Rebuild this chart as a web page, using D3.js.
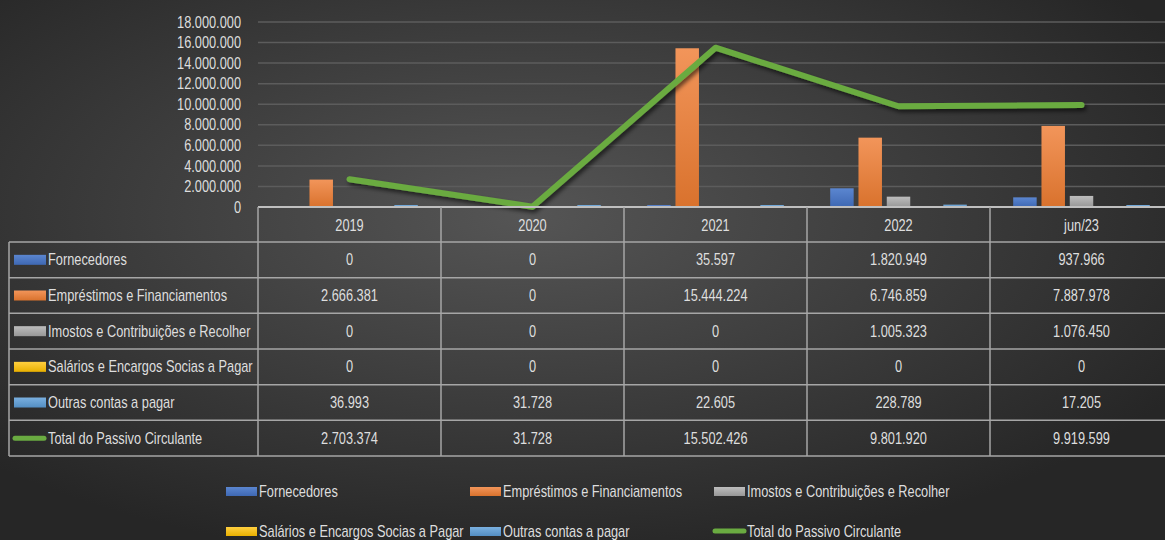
<!DOCTYPE html>
<html>
<head>
<meta charset="utf-8">
<script src="https://cdn.jsdelivr.net/npm/d3@7"></script>
<style>
  html, body { margin: 0; padding: 0; background: #333; }
  svg text { font-family: "Liberation Sans", Arial, sans-serif; fill: #dedede; font-size: 16px; }
</style>
</head>
<body>
<script>
var width = 1165, height = 540;

// dados
var categorias = ["2019", "2020", "2021", "2022", "jun/23"];
var series = ["Fornecedores", "Empréstimos e Financiamentos", "Imostos e Contribuições e Recolher",
              "Salários e Encargos Socias a Pagar", "Outras contas a pagar"];
var fornecedores = [0, 0, 35597, 1820949, 937966];
var emprestimos = [2666381, 0, 15444224, 6746859, 7887978];
var impostos = [0, 0, 0, 1005323, 1076450];
var salarios = [0, 0, 0, 0, 0];
var outras = [36993, 31728, 22605, 228789, 17205];
var totalNome = "Total do Passivo Circulante";
var total = [2703374, 31728, 15502426, 9801920, 9919599];
var yTicks = [0, 2000000, 4000000, 6000000, 8000000, 10000000, 12000000, 14000000, 16000000, 18000000];

var valores = [fornecedores, emprestimos, impostos, salarios, outras];
var cores = ["#4472C4", "#ED7D31", "#A5A5A5", "#FFC000", "#5B9BD5"];
var coresTopo = ["#5b86d0", "#f2955a", "#bdbdbd", "#ffd040", "#7ab0e0"];
var corTotal = "#6aab41";
var estreito = 0.8; // fonte condensada: escala horizontal

var fmt = function(v) { return d3.format(",")(v).replace(/,/g, "."); };

var svg = d3.select("body").append("svg")
    .attr("width", width)
    .attr("height", height);

// texto condensado
function texto(g, x, y, s, anchor) {
    return g.append("text")
        .attr("transform", "translate(" + x + "," + y + ") scale(" + estreito + ",1)")
        .attr("dy", "0.35em")
        .attr("text-anchor", anchor || "start")
        .text(s);
}

var defs = svg.append("defs");
var bg = defs.append("radialGradient").attr("id", "bg")
    .attr("cx", "45%").attr("cy", "40%").attr("r", "65%");
bg.append("stop").attr("offset", "0%").attr("stop-color", "#555555");
bg.append("stop").attr("offset", "100%").attr("stop-color", "#262626");

cores.forEach(function(c, i) {
    var g = defs.append("linearGradient").attr("id", "grad" + i)
        .attr("x1", 0).attr("y1", 0).attr("x2", 0).attr("y2", 1);
    g.append("stop").attr("offset", "0%").attr("stop-color", coresTopo[i]);
    g.append("stop").attr("offset", "100%").attr("stop-color", d3.color(c).darker(0.25));
});

var sombra = defs.append("filter").attr("id", "sombra")
    .attr("x", "-10%").attr("y", "-10%").attr("width", "120%").attr("height", "130%");
sombra.append("feDropShadow").attr("dx", 2).attr("dy", 3).attr("stdDeviation", 2)
    .attr("flood-color", "#000").attr("flood-opacity", 0.6);

svg.append("rect").attr("width", width).attr("height", height).attr("fill", "url(#bg)");

// escalas
var x0 = d3.scaleBand().domain(categorias).range([258, 258 + 5 * 183]).padding(0);
var x1 = d3.scaleBand().domain(series).range([0, x0.bandwidth()]).paddingInner(0.17).paddingOuter(0.82);
var y = d3.scaleLinear().domain([0, 18000000]).range([207, 22]);

// grade
svg.append("g").selectAll("line").data(yTicks.slice(1)).join("line")
    .attr("x1", 258).attr("x2", width)
    .attr("y1", function(d) { return y(d); }).attr("y2", function(d) { return y(d); })
    .attr("stroke", "#5c5c5c").attr("stroke-width", 1.5);

// eixo y
var yAxis = svg.append("g").attr("transform", "translate(241,0)")
    .call(d3.axisLeft(y).tickValues(yTicks).tickFormat(fmt).tickSize(0).tickPadding(0));
yAxis.select(".domain").remove();
yAxis.selectAll("text").attr("fill", "#dedede").attr("font-size", null).attr("font-family", null)
    .attr("transform", "scale(" + estreito + ",1)");

// barras
series.forEach(function(s, i) {
    svg.append("g").selectAll("rect")
        .data(valores[i].map(function(v, j) { return {cat: categorias[j], v: v}; })
            .filter(function(d) { return d.v > 0; }))
        .join("rect")
        .attr("x", function(d) { return x0(d.cat) + x1(s); })
        .attr("width", x1.bandwidth())
        .attr("y", function(d) { return Math.min(y(d.v), y(0) - 2); })
        .attr("height", function(d) { return Math.max(y(0) - y(d.v), 2); })
        .attr("fill", "url(#grad" + i + ")");
});

// linha do total
var linha = d3.line()
    .x(function(d, j) { return x0(categorias[j]) + x0.bandwidth() / 2; })
    .y(function(d) { return y(d); });
svg.append("path").datum(total)
    .attr("d", linha)
    .attr("fill", "none")
    .attr("stroke", corTotal)
    .attr("stroke-width", 6)
    .attr("stroke-linecap", "round")
    .attr("stroke-linejoin", "round")
    .attr("filter", "url(#sombra)");

// tabela de dados
var corLinha = "#a6a6a6";
var tabTop = 242, rowH = 35.67, tabLeft = 9;
var linhas = series.concat([totalNome]);
var dadosTab = valores.concat([total]);

svg.append("line").attr("x1", 258).attr("x2", width).attr("y1", y(0)).attr("y2", y(0))
    .attr("stroke", "#bfbfbf").attr("stroke-width", 2);

// cabeçalho
var cab = svg.append("g");
cab.selectAll("line").data(categorias).join("line")
    .attr("x1", function(d) { return x0(d); }).attr("x2", function(d) { return x0(d); })
    .attr("y1", y(0)).attr("y2", tabTop).attr("stroke", corLinha).attr("stroke-width", 1.5);
categorias.forEach(function(c) {
    texto(cab, x0(c) + x0.bandwidth() / 2, 225, c, "middle");
});

var tab = svg.append("g");
d3.range(linhas.length + 1).forEach(function(r) {
    tab.append("line").attr("x1", tabLeft).attr("x2", width)
        .attr("y1", tabTop + r * rowH).attr("y2", tabTop + r * rowH)
        .attr("stroke", corLinha).attr("stroke-width", 1.5);
});
[tabLeft].concat(categorias.map(function(c) { return x0(c); })).forEach(function(xv) {
    tab.append("line").attr("x1", xv).attr("x2", xv)
        .attr("y1", tabTop).attr("y2", tabTop + linhas.length * rowH)
        .attr("stroke", corLinha).attr("stroke-width", 1.5);
});

linhas.forEach(function(nome, r) {
    var cy = tabTop + r * rowH + rowH / 2;
    if (r < series.length) {
        tab.append("rect").attr("x", 14).attr("y", cy - 5).attr("width", 32).attr("height", 10)
            .attr("fill", "url(#grad" + r + ")");
    } else {
        tab.append("line").attr("x1", 15).attr("x2", 44).attr("y1", cy).attr("y2", cy)
            .attr("stroke", corTotal).attr("stroke-width", 5).attr("stroke-linecap", "round");
    }
    texto(tab, 48, cy, nome);
    dadosTab[r].forEach(function(v, j) {
        texto(tab, x0(categorias[j]) + x0.bandwidth() / 2, cy, fmt(v), "middle");
    });
});

// legenda
var legX = [226, 470, 714], legY = [491, 531];
var leg = svg.append("g");
linhas.forEach(function(nome, i) {
    var lx = legX[i % 3], ly = legY[Math.floor(i / 3)];
    if (i < series.length) {
        leg.append("rect").attr("x", lx).attr("y", ly - 4).attr("width", 31).attr("height", 9)
            .attr("fill", "url(#grad" + i + ")");
    } else {
        leg.append("line").attr("x1", lx + 1).attr("x2", lx + 30).attr("y1", ly).attr("y2", ly)
            .attr("stroke", corTotal).attr("stroke-width", 5).attr("stroke-linecap", "round");
    }
    texto(leg, lx + 33, ly, nome);
});
</script>
</body>
</html>
